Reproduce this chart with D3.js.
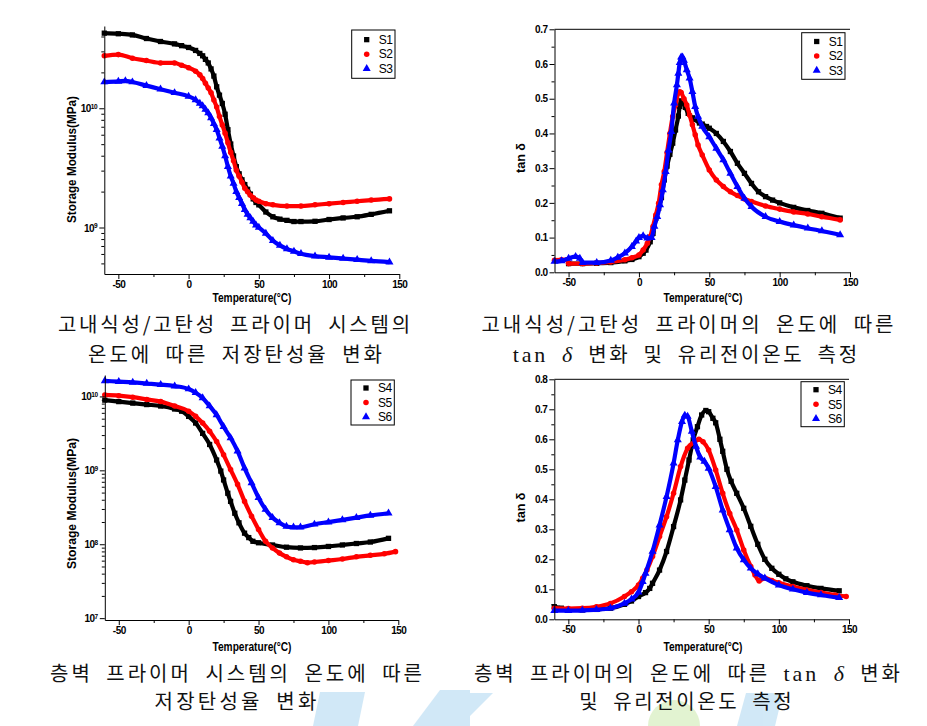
<!DOCTYPE html>
<html><head><meta charset="utf-8">
<script src="https://cdn.jsdelivr.net/npm/d3@7"></script>
<style>body{margin:0;background:#fff}svg{display:block}</style>
</head><body>
<svg id="c" width="927" height="726"></svg>
<script>
// ---------------- DATA ----------------
// temperature axis ticks (°C)
const tempTicks = [-50, 0, 50, 100, 150];
const tempMinor = [-25, 25, 75, 125];
const tanTicks7 = [0, 0.1, 0.2, 0.3, 0.4, 0.5, 0.6, 0.7];
const tanTicks8 = [0, 0.1, 0.2, 0.3, 0.4, 0.5, 0.6, 0.7, 0.8];
const logTicks1 = [9, 10];          // exponents of 10 (10^9, 10^10)
const logTicks3 = [7, 8, 9, 10];    // exponents of 10
const names1 = ["S1", "S2", "S3"];
const names2 = ["S4", "S5", "S6"];

// Storage modulus, [T °C, log10(E' / MPa)]
const modS1 = [[-60,10.63],[-50,10.625],[-40,10.615],[-30,10.585],[-20,10.56],[-10,10.54],[-5,10.525],[0,10.51],[5,10.485],[8,10.46],[10,10.44],[12,10.41],[14,10.38],[16,10.33],[18,10.27],[20,10.18],[22,10.11],[24,10.04],[26,9.95],[28,9.82],[30,9.70],[32,9.60],[34,9.51],[36,9.45],[38,9.40],[40,9.36],[42,9.32],[44,9.28],[46,9.24],[48,9.21],[50,9.19],[55,9.13],[60,9.09],[65,9.07],[70,9.06],[75,9.05],[80,9.05],[90,9.052],[100,9.067],[110,9.08],[120,9.09],[130,9.11],[143,9.14]];
const modS2 = [[-60,10.44],[-50,10.45],[-40,10.42],[-30,10.40],[-20,10.38],[-10,10.38],[-5,10.36],[0,10.34],[5,10.31],[8,10.28],[10,10.25],[12,10.21],[14,10.17],[16,10.13],[18,10.07],[20,10.01],[22,9.93],[24,9.86],[26,9.79],[28,9.71],[30,9.63],[32,9.56],[34,9.48],[36,9.43],[38,9.38],[40,9.33],[42,9.30],[44,9.27],[46,9.25],[48,9.23],[50,9.22],[55,9.20],[60,9.19],[70,9.18],[80,9.18],[90,9.19],[100,9.20],[110,9.21],[120,9.22],[130,9.23],[143,9.24]];
const modS3 = [[-60,10.22],[-50,10.225],[-45,10.23],[-40,10.22],[-30,10.19],[-20,10.16],[-10,10.13],[0,10.10],[5,10.07],[8,10.04],[10,10.02],[12,9.99],[14,9.96],[16,9.92],[18,9.87],[20,9.82],[22,9.75],[24,9.68],[26,9.60],[28,9.51],[30,9.43],[32,9.37],[34,9.30],[36,9.25],[38,9.20],[40,9.15],[42,9.11],[44,9.08],[46,9.05],[48,9.02],[50,9.0],[55,8.95],[60,8.89],[65,8.85],[70,8.82],[75,8.80],[80,8.78],[90,8.76],[100,8.75],[110,8.74],[120,8.73],[130,8.72],[143,8.71]];

// tan delta, [T °C, tan δ]
const tanS1 = [[-50,0.025],[-40,0.025],[-30,0.026],[-20,0.028],[-10,0.033],[-5,0.037],[0,0.045],[3,0.055],[5,0.064],[8,0.088],[10,0.112],[12,0.156],[14,0.184],[16,0.215],[18,0.266],[20,0.306],[22,0.340],[24,0.372],[26,0.41],[28,0.45],[29,0.478],[30,0.494],[31,0.49],[33,0.475],[35,0.458],[38,0.445],[40,0.44],[43,0.43],[45,0.427],[48,0.42],[50,0.415],[55,0.40],[60,0.377],[65,0.348],[70,0.314],[75,0.285],[80,0.256],[85,0.232],[90,0.218],[95,0.208],[100,0.20],[110,0.187],[120,0.178],[130,0.17],[143,0.156]];
const tanS2 = [[-60,0.035],[-55,0.036],[-51,0.036],[-50,0.025],[-40,0.025],[-30,0.027],[-20,0.03],[-10,0.036],[-5,0.042],[0,0.05],[3,0.064],[6,0.084],[8,0.103],[10,0.132],[12,0.165],[14,0.199],[16,0.252],[18,0.29],[20,0.345],[22,0.40],[24,0.449],[26,0.482],[28,0.516],[29,0.52],[30,0.518],[32,0.50],[34,0.482],[36,0.453],[38,0.425],[40,0.396],[42,0.367],[45,0.338],[50,0.295],[55,0.266],[60,0.247],[65,0.232],[70,0.221],[75,0.211],[80,0.204],[90,0.191],[100,0.182],[110,0.174],[120,0.168],[130,0.16],[143,0.151]];
const tanS3 = [[-60,0.031],[-55,0.033],[-50,0.04],[-45,0.045],[-42,0.04],[-40,0.028],[-30,0.028],[-20,0.034],[-15,0.043],[-10,0.055],[-5,0.074],[-2,0.09],[0,0.10],[3,0.105],[6,0.098],[9,0.10],[11,0.132],[13,0.16],[15,0.194],[17,0.237],[19,0.29],[21,0.352],[23,0.405],[25,0.487],[27,0.54],[28,0.573],[29,0.604],[30,0.62],[31,0.62],[32,0.61],[34,0.583],[36,0.559],[38,0.52],[40,0.477],[42,0.449],[45,0.42],[50,0.39],[55,0.357],[60,0.324],[65,0.285],[70,0.247],[75,0.213],[80,0.189],[90,0.16],[100,0.146],[110,0.136],[120,0.127],[130,0.119],[143,0.108]];

const modS4 = [[-60,9.95],[-50,9.93],[-40,9.91],[-30,9.89],[-20,9.87],[-10,9.83],[-5,9.80],[0,9.73],[5,9.64],[10,9.50],[15,9.35],[20,9.14],[23,8.99],[25,8.87],[28,8.69],[30,8.58],[33,8.42],[36,8.29],[40,8.15],[43,8.09],[46,8.04],[50,8.02],[60,7.99],[70,7.96],[80,7.95],[90,7.955],[100,7.97],[110,7.99],[120,8.01],[130,8.03],[143,8.08]];
const modS5 = [[-60,10.02],[-50,10.01],[-40,9.99],[-30,9.96],[-20,9.93],[-10,9.87],[0,9.80],[5,9.73],[10,9.64],[15,9.53],[20,9.39],[25,9.21],[30,9.01],[35,8.81],[40,8.58],[45,8.38],[50,8.20],[55,8.04],[60,7.95],[65,7.88],[70,7.83],[75,7.79],[80,7.77],[85,7.75],[90,7.76],[100,7.78],[110,7.80],[120,7.83],[130,7.85],[140,7.87],[148,7.90]];
const modS6 = [[-60,10.21],[-50,10.20],[-40,10.19],[-30,10.175],[-20,10.16],[-10,10.14],[0,10.10],[5,10.05],[10,9.98],[15,9.87],[20,9.75],[25,9.59],[30,9.44],[35,9.26],[40,9.03],[45,8.83],[50,8.63],[55,8.47],[60,8.36],[65,8.29],[70,8.24],[75,8.23],[80,8.23],[90,8.27],[100,8.30],[110,8.33],[120,8.36],[130,8.39],[143,8.42]];

const tanS4 = [[-60,0.042],[-55,0.037],[-50,0.031],[-40,0.031],[-30,0.033],[-20,0.037],[-10,0.05],[-5,0.061],[0,0.076],[5,0.089],[8,0.103],[10,0.12],[15,0.164],[20,0.226],[25,0.309],[30,0.398],[33,0.464],[36,0.531],[39,0.598],[42,0.642],[45,0.681],[48,0.696],[50,0.692],[53,0.67],[55,0.655],[58,0.60],[60,0.56],[63,0.50],[66,0.46],[70,0.42],[75,0.37],[80,0.31],[85,0.25],[90,0.20],[95,0.17],[100,0.15],[105,0.135],[110,0.125],[120,0.112],[130,0.103],[143,0.095]];
const tanS5 = [[-60,0.037],[-50,0.036],[-40,0.037],[-30,0.042],[-20,0.053],[-10,0.076],[-5,0.092],[0,0.114],[3,0.137],[6,0.164],[10,0.209],[15,0.276],[20,0.342],[25,0.42],[30,0.509],[35,0.57],[40,0.592],[43,0.60],[46,0.592],[50,0.564],[55,0.498],[60,0.42],[65,0.353],[70,0.298],[75,0.231],[80,0.176],[83,0.148],[86,0.128],[88,0.135],[90,0.138],[95,0.129],[100,0.122],[110,0.109],[120,0.098],[130,0.089],[140,0.081],[148,0.076]];
const tanS6 = [[-60,0.029],[-50,0.029],[-40,0.03],[-30,0.032],[-20,0.037],[-10,0.053],[-5,0.067],[0,0.09],[3,0.125],[5,0.153],[10,0.226],[15,0.314],[20,0.409],[25,0.52],[28,0.598],[31,0.659],[33,0.68],[35,0.676],[38,0.626],[41,0.576],[44,0.54],[47,0.526],[50,0.503],[55,0.442],[60,0.364],[65,0.298],[70,0.237],[75,0.198],[80,0.17],[85,0.151],[90,0.137],[100,0.114],[110,0.1],[120,0.089],[130,0.081],[143,0.072]];

// ---------------- STYLE / LAYOUT ----------------
const colors = ["#000000", "#ff0000", "#0000ff"];
const symbols = [d3.symbolSquare, d3.symbolCircle, d3.symbolTriangle];
const symSizes = [28, 24, 28];
const SANS = "'Liberation Sans', Arial, sans-serif";
const svg = d3.select("#c");

const panels = [
  {log:true, l:104.3, r:399.3, t:26, b:274, yd:[8.61,10.69], yt:logTicks1, series:[modS1,modS2,modS3], names:names1,
   leg:{x:351.7,y:30,w:43.3,h:48.3}, ylab:{x:72,y:159.5,len:127}, xlab:{x:252,y:298,len:79}, top:false},
  {log:false, l:554.5, r:850, t:29.3, b:272.3, yd:[0,0.7], yt:tanTicks7, series:[tanS1,tanS2,tanS3], names:names1,
   leg:{x:801.7,y:32.7,w:43.3,h:46.6}, ylab:{x:520.5,y:158,len:30}, xlab:{x:703,y:298.3,len:79}, top:true},
  {log:true, l:104.8, r:398.3, t:375, b:620, yd:[6.975,10.29], yt:logTicks3, series:[modS4,modS5,modS6], names:names2,
   leg:{x:351,y:380,w:43.3,h:45}, ylab:{x:72,y:503.5,len:131}, xlab:{x:252,y:646.7,len:79}, top:false},
  {log:false, l:554.3, r:849, t:379.3, b:619.3, yd:[0,0.8], yt:tanTicks8, series:[tanS4,tanS5,tanS6], names:names2,
   leg:{x:801,y:381.7,w:43.3,h:45}, ylab:{x:520.5,y:507.5,len:30}, xlab:{x:703,y:646.7,len:79}, top:true}
];

// ---------------- WATERMARKS (background) ----------------
const wm = svg.append("g").attr("opacity", 0.4);
[[[320,692],[365,692],[358,726],[313,726]],
 [[440,690],[470,690],[470,726],[413,726]],
 [[460,693],[493,693],[460,726]],
 [[746,693],[783,693],[775,726],[737,726]]].forEach(p=>{
  wm.append("polygon").attr("points", p.map(q=>q.join(",")).join(" ")).attr("fill","#8fc8ec");
});
wm.append("path").attr("d","M648,726 A26,26 0 0 1 700,726 Z").attr("fill","#b9e28f");

// ---------------- PANELS ----------------
function styleAxisText(sel){
  sel.selectAll("text").attr("font-family",SANS).attr("font-weight","bold").attr("font-size",10)
     .attr("letter-spacing","-0.5px").attr("fill","#000");
  sel.selectAll("line").attr("stroke","#000");
  sel.selectAll("path.domain").attr("stroke","#000");
}

panels.forEach(cfg=>{
  const g = svg.append("g");
  const x = d3.scaleLinear().domain([-60,150]).range([cfg.l,cfg.r]);
  const y = cfg.log
    ? d3.scaleLog().domain([Math.pow(10,cfg.yd[0]), Math.pow(10,cfg.yd[1])]).range([cfg.b,cfg.t])
    : d3.scaleLinear().domain(cfg.yd).range([cfg.b,cfg.t]);
  const val = v => cfg.log ? Math.pow(10, v) : v;

  // series
  cfg.series.forEach((data,i)=>{
    const line = d3.line().x(d=>x(d[0])).y(d=>y(val(d[1]))).curve(d3.curveMonotoneX);
    g.append("path").datum(data).attr("d",line).attr("fill","none")
      .attr("stroke",colors[i]).attr("stroke-width",4.2).attr("stroke-linejoin","round");
    g.append("g").selectAll("path").data(data).join("path")
      .attr("d", d3.symbol().type(symbols[i]).size(symSizes[i]))
      .attr("transform", d=>`translate(${x(d[0])},${y(val(d[1]))})`)
      .attr("fill", colors[i]);
  });

  // x axis
  const xa = g.append("g").attr("transform",`translate(0,${cfg.b})`)
    .call(d3.axisBottom(x).tickValues(tempTicks).tickSize(5).tickSizeOuter(0).tickPadding(2).tickFormat(d=>String(d)));
  styleAxisText(xa);
  const xm = g.append("g").attr("transform",`translate(0,${cfg.b})`)
    .call(d3.axisBottom(x).tickValues(tempMinor).tickSize(3).tickFormat(""));
  xm.select(".domain").remove(); styleAxisText(xm);

  // y axis
  if (cfg.log){
    const ya = g.append("g").attr("transform",`translate(${cfg.l},0)`)
      .call(d3.axisLeft(y).tickValues(cfg.yt.map(e=>Math.pow(10,e))).tickSize(5).tickSizeOuter(0).tickPadding(2).tickFormat(()=>""));
    styleAxisText(ya);
    ya.selectAll(".tick text").each(function(d){
      const t = d3.select(this).text("10").attr("dy","0.35em").attr("letter-spacing","-0.6px");
      t.append("tspan").attr("dy","-0.55em").attr("font-size",6.5).attr("letter-spacing","-0.3px").text(String(Math.round(Math.log10(d))));
    });
    const minor = [];
    for (let e=Math.floor(cfg.yd[0]); e<=Math.ceil(cfg.yd[1]); e++)
      for (let m=2; m<=9; m++){ const v=m*Math.pow(10,e); if (Math.log10(v)>cfg.yd[0] && Math.log10(v)<cfg.yd[1]) minor.push(v); }
    const ym = g.append("g").attr("transform",`translate(${cfg.l},0)`)
      .call(d3.axisLeft(y).tickValues(minor).tickSize(3).tickFormat(""));
    ym.select(".domain").remove(); styleAxisText(ym);
  } else {
    const ya = g.append("g").attr("transform",`translate(${cfg.l},0)`)
      .call(d3.axisLeft(y).tickValues(cfg.yt).tickSize(5).tickSizeOuter(0).tickPadding(2).tickFormat(d3.format(".1f")));
    styleAxisText(ya);
    const minor = cfg.yt.slice(0,-1).map(v=>v+0.05);
    const ym = g.append("g").attr("transform",`translate(${cfg.l},0)`)
      .call(d3.axisLeft(y).tickValues(minor).tickSize(3).tickFormat(""));
    ym.select(".domain").remove(); styleAxisText(ym);
  }
  if (cfg.top){
    g.append("line").attr("x1",cfg.l).attr("x2",cfg.r).attr("y1",cfg.t).attr("y2",cfg.t).attr("stroke","#000");
  }

  // axis titles
  g.append("text").attr("x",cfg.xlab.x).attr("y",cfg.xlab.y+4).attr("text-anchor","middle")
    .attr("font-family",SANS).attr("font-weight","bold").attr("font-size",12)
    .attr("textLength",cfg.xlab.len).attr("lengthAdjust","spacingAndGlyphs").text("Temperature(°C)");
  const yl = g.append("text").attr("transform",`translate(${cfg.ylab.x},${cfg.ylab.y}) rotate(-90)`)
    .attr("text-anchor","middle").attr("dy","0.35em")
    .attr("font-family",SANS).attr("font-weight","bold").attr("font-size",12)
    .attr("textLength",cfg.ylab.len).attr("lengthAdjust","spacingAndGlyphs");
  yl.text(cfg.log ? "Storage Modulus(MPa)" : "tan δ");

  // legend
  const lg = g.append("g");
  lg.append("rect").attr("x",cfg.leg.x).attr("y",cfg.leg.y).attr("width",cfg.leg.w).attr("height",cfg.leg.h)
    .attr("fill","#fff").attr("stroke","#000").attr("stroke-width",1);
  const step = 14.5;
  cfg.names.forEach((n,i)=>{
    const cy = cfg.leg.y + (cfg.leg.h - 2*step)/2 + i*step;
    lg.append("path").attr("d", d3.symbol().type(symbols[i]).size(symSizes[i]))
      .attr("transform",`translate(${cfg.leg.x+15},${cy})`).attr("fill",colors[i]);
    lg.append("text").attr("x",cfg.leg.x+27).attr("y",cy+4.3).attr("font-family",SANS)
      .attr("font-size",12).attr("letter-spacing","-0.5px").attr("fill","#000").text(n);
  });
});

// ---------------- CAPTIONS ----------------
const KR = "'Noto Sans CJK KR', sans-serif";
const SERIF = "'Liberation Serif', 'DejaVu Serif', serif";
// segments: [text, kind]  kind: k=korean, s=serif, i=italic serif
const captions = [
  {cx:234, y:332, w:355, seg:[["고내식성/고탄성 프라이머 시스템의","k"]]},
  {cx:235, y:362, w:297, seg:[["온도에 따른 저장탄성율 변화","k"]]},
  {cx:687.5, y:332, w:415, seg:[["고내식성/고탄성 프라이머의 온도에 따른","k"]]},
  {cx:685, y:362, w:347, seg:[["tan ","s"],["δ","i"],[" 변화 및 유리전이온도 측정","k"]]},
  {cx:236, y:681, w:375, seg:[["층벽 프라이머 시스템의 온도에 따른","k"]]},
  {cx:235.5, y:709, w:165, seg:[["저장탄성율 변화","k"]]},
  {cx:687, y:681, w:429, seg:[["층벽 프라이머의 온도에 따른 ","k"],["tan ","s"],["δ","i"],[" 변화","k"]]},
  {cx:685.5, y:709, w:215, seg:[["및 유리전이온도 측정","k"]]}
];
captions.forEach(c=>{
  const t = svg.append("text").attr("x",c.cx).attr("y",c.y).attr("text-anchor","middle")
    .attr("font-size",20).attr("fill","#111").style("word-spacing","6px");
  let n = 0;
  c.seg.forEach(s=>{
    const ts = t.append("tspan").text(s[0]).attr("font-family", s[1]==="k"?KR:SERIF);
    if (s[1]==="i") ts.attr("font-style","italic");
    if (s[1]!=="k") ts.attr("font-size",22);
    n += s[0].length;
  });
  const L = t.node().getComputedTextLength();
  const ls = (c.w - L)/n;
  t.attr("letter-spacing", ls.toFixed(2)+"px").attr("x", c.cx + ls/2);
});
</script>
</body></html>
